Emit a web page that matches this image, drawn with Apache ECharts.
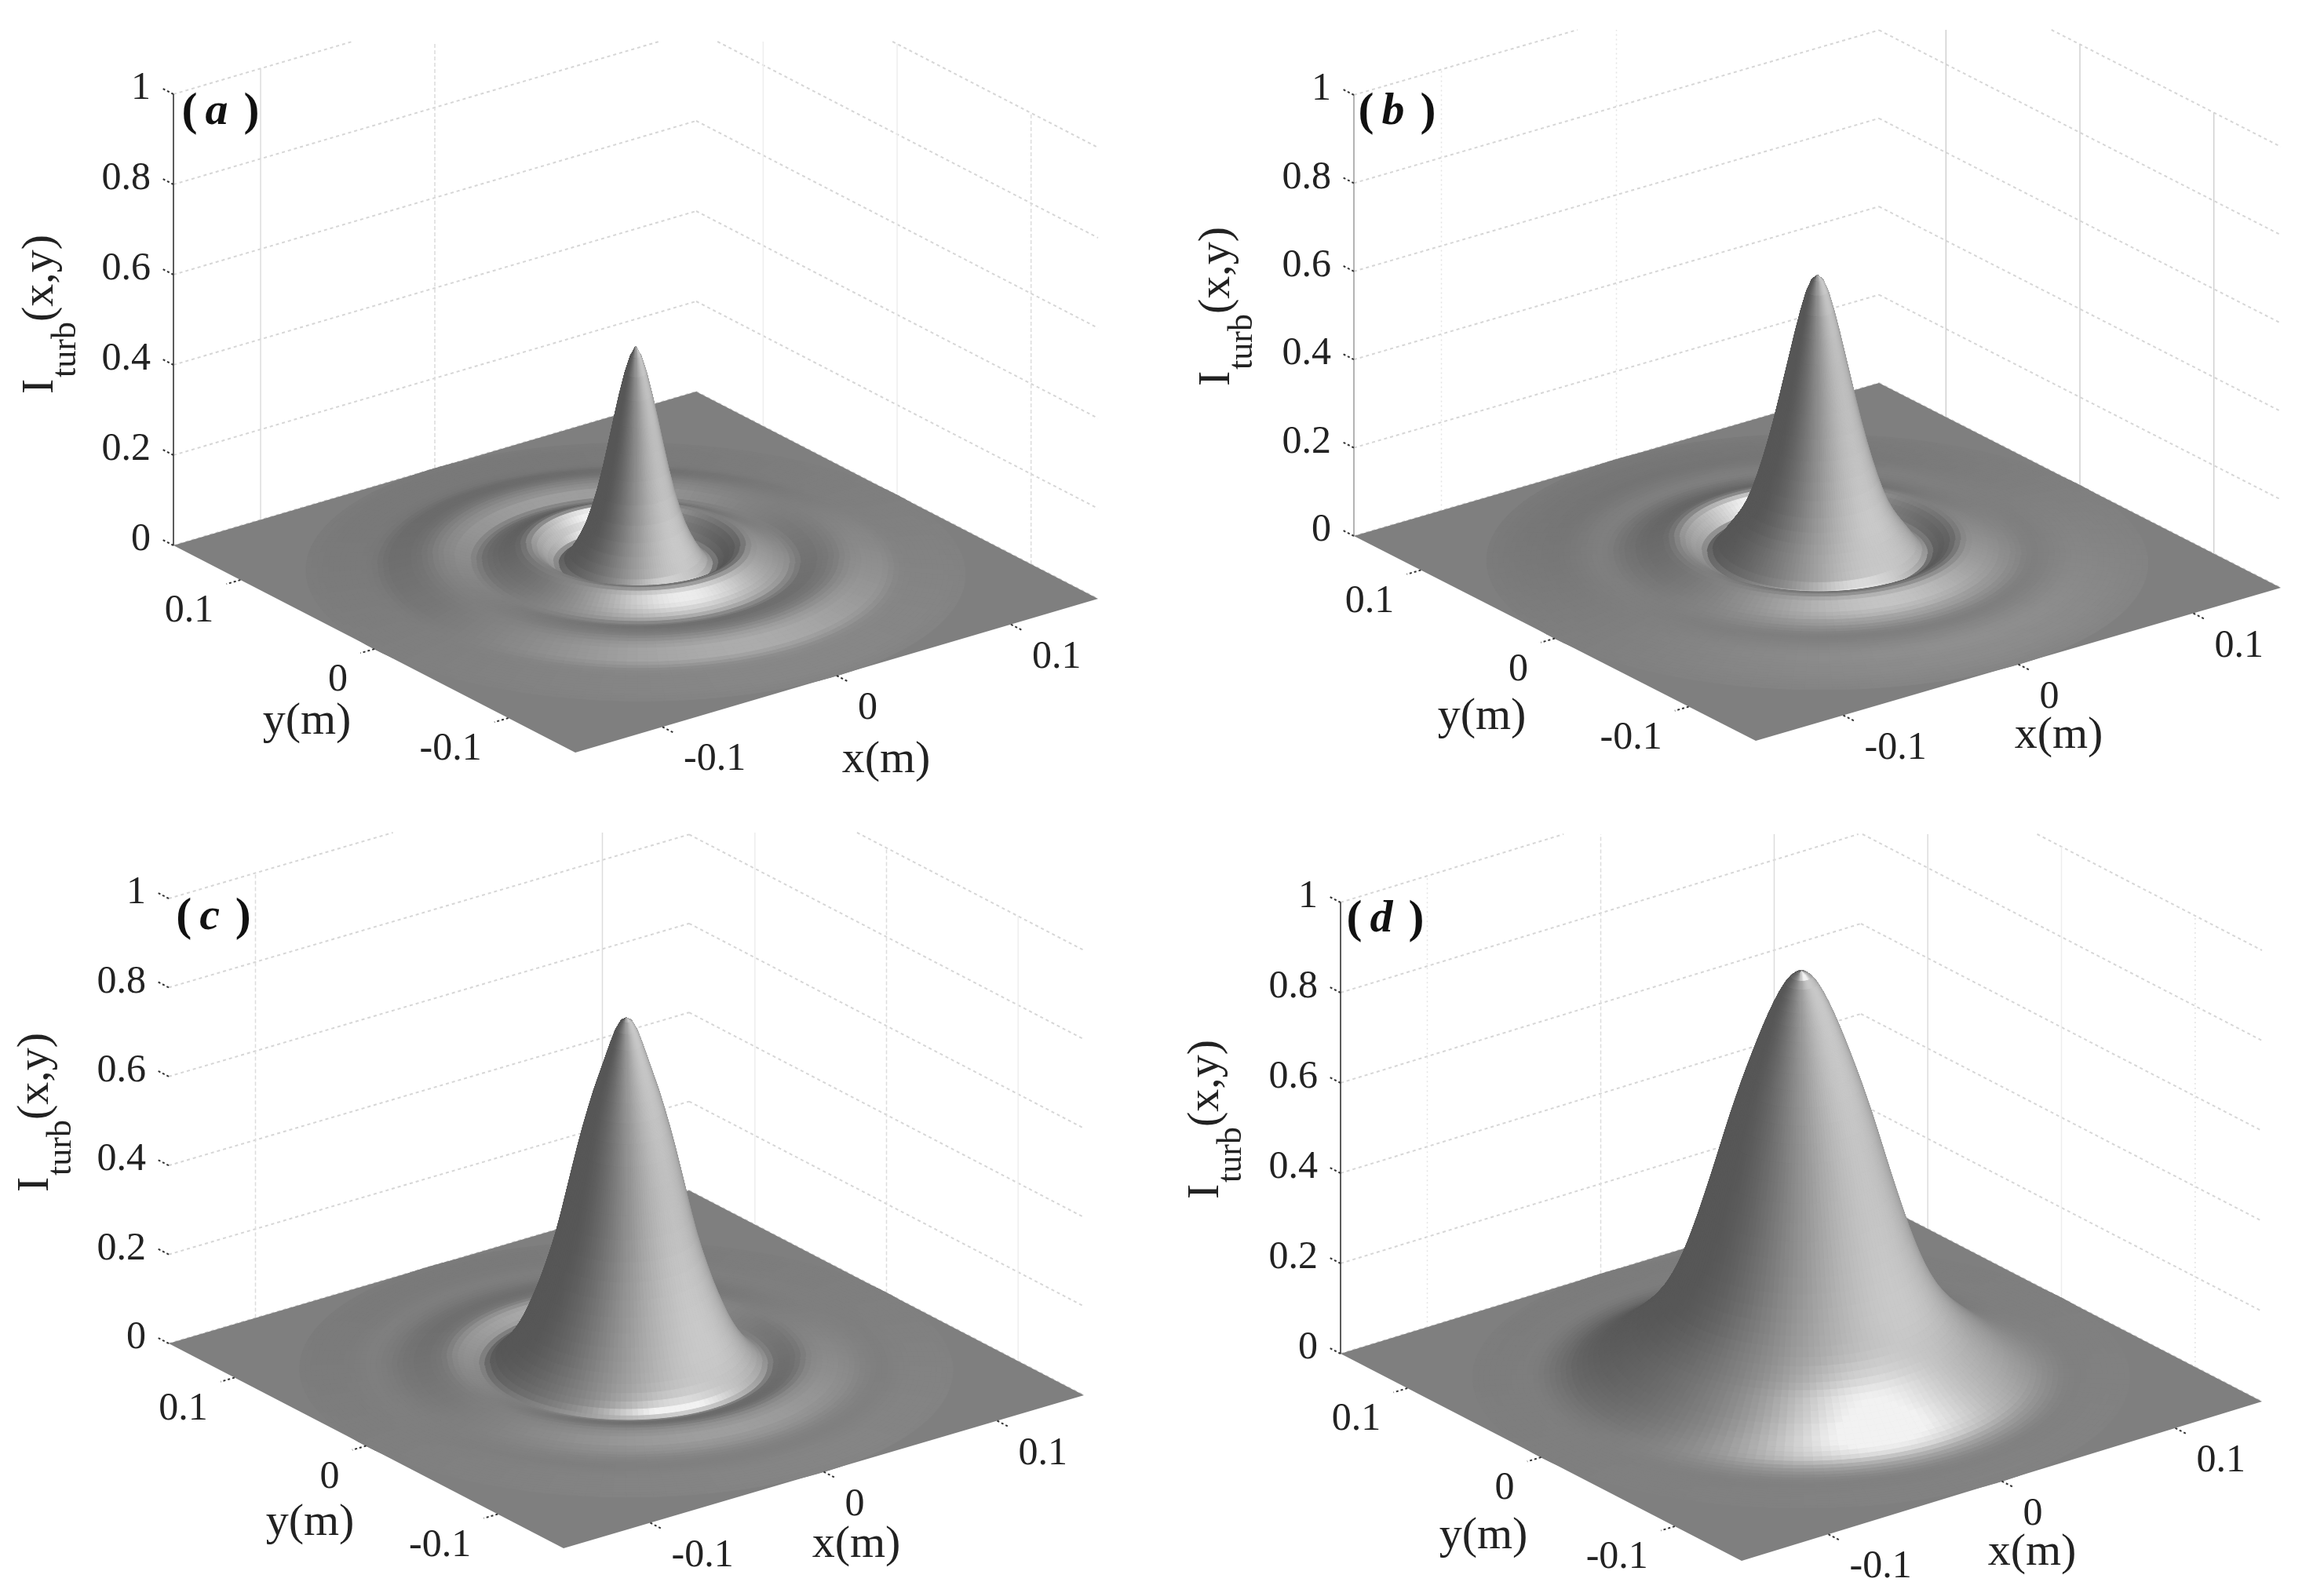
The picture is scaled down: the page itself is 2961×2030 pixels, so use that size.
<!DOCTYPE html>
<html>
<head>
<meta charset="utf-8">
<title>Turbulence intensity surfaces</title>
<script src="https://cdn.jsdelivr.net/npm/echarts@6/dist/echarts.min.js"></script>
<style>
  html, body { margin: 0; padding: 0; background: #fff; }
  #chart { width: 2961px; height: 2030px; }
</style>
</head>
<body>
<div id="chart"></div>
<script>
// radius of each profile sample, metres
const radii = [
  0, .0025, .005, .0075, .01, .0125, .015, .0175, .02, .0225,
  .025, .0275, .03, .0325, .035, .0375, .04, .0425, .045, .0475,
  .05, .0525, .055, .0575, .06, .0625, .065, .0675, .07, .0725,
  .075, .0775, .08, .0825, .085, .0875, .09, .0925, .095, .0975,
  .1, .1025, .105, .1075, .11, .1125, .115, .1175, .12, .1225,
  .125, .1275, .13, .1325, .135, .1375, .14, .1425, .145, .1475,
  .15
]
// I_turb against radius
const profileA = [
  .500, .478, .440, .392, .338, .282, .228, .180, .140, .106,
  .080, .058, .040, .026, .018, .021, .032, .044, .054, .060,
  .061, .058, .053, .047, .041, .036, .031, .027, .024, .022,
  .024, .026, .029, .031, .033, .034, .035, .035, .034, .032,
  .030, .027, .024, .021, .018, .015, .012, .0104, .0092, .0082,
  .0074, .0066, .0058, .005, .0042, .0034, .0026, .0018, .0011, .0005,
  0
]
const profileB = [
  .650, .640, .612, .570, .522, .470, .418, .366, .316, .270,
  .228, .190, .156, .128, .106, .088, .072, .056, .040, .026,
  .020, .024, .032, .041, .048, .052, .053, .051, .047, .043,
  .039, .035, .031, .028, .025, .023, .021, .020, .0195, .0195,
  .0195, .0195, .0192, .0186, .0178, .0168, .0156, .0142, .0128, .0114,
  .010, .0088, .0076, .0064, .0052, .0041, .0031, .0022, .0013, .0006,
  0
]
const profileC = [
  .790, .783, .762, .730, .695, .660, .625, .585, .543, .497,
  .448, .398, .348, .302, .262, .226, .192, .162, .134, .108,
  .086, .067, .051, .037, .025, .015, .010, .012, .015, .018,
  .021, .024, .026, .026, .025, .023, .021, .019, .016, .014,
  .012, .010, .0085, .0075, .0068, .0064, .0062, .0062, .0062, .006,
  .0056, .0052, .0046, .004, .0034, .0028, .0022, .0016, .001, .0004,
  0
]
const profileD = [
  .900, .897, .888, .873, .853, .830, .804, .776, .746, .715,
  .683, .650, .615, .579, .541, .502, .463, .425, .388, .352,
  .318, .286, .257, .231, .208, .188, .170, .155, .141, .128,
  .116, .105, .095, .085, .075, .066, .057, .049, .041, .034,
  .028, .022, .017, .013, .010, .0075, .0056, .0044, .0036, .0032,
  .003, .0028, .0026, .0023, .002, .0017, .0013, .001, .0006, .0003,
  0
]
const zTicks = [0, 0.2, 0.4, 0.6, 0.8, 1]
const zTickLabels = ['0', '0.2', '0.4', '0.6', '0.8', '1']
const xyTicks = [-0.1, 0, 0.1]
const xyTickLabels = ['-0.1', '0', '0.1']

const WALL_H = { stroke: '#d6d6d6', lineWidth: 2, lineDash: [4, 4] }
const V_SOLID = { stroke: '#dcdcdc', lineWidth: 1.5 }
const V_GRAY = { stroke: '#d0d0d0', lineWidth: 1.5 }
const V_FAINT = { stroke: '#eeeeee', lineWidth: 1.5 }
const V_DASH = { stroke: '#dcdcdc', lineWidth: 1.5, lineDash: [5, 3] }
const V_DOT = { stroke: '#e4e4e4', lineWidth: 1.5, lineDash: [2, 4] }
const AXIS_DARK = { stroke: '#5c5c5c', lineWidth: 2 }
const AXIS_LIGHT = { stroke: '#b4b4b4', lineWidth: 2 }
const TICK = { stroke: '#333333', lineWidth: 2, lineDash: [3, 3] }

// where each panel sits on the page; the source figure renders its thin lines unevenly
const panels = [
  { letter: 'a', profile: profileA, box: [0, 0, 1480, 1015], left: [221, 695], right: [1399, 763], front: [733, 959], zHeight: 575, cropTop: 53,
    yTitle: [391, 920], xTitle: [1129, 969], iTitle: [52, 502], tag: [281, 143], axis: AXIS_DARK,
    leftV: [V_SOLID, V_DASH, null], rightV: [V_FAINT, V_FAINT, V_DASH] },
  { letter: 'b', profile: profileB, box: [1480, 0, 1481, 1015], left: [1725, 683], right: [2906, 749], front: [2237, 944], zHeight: 562, cropTop: 38,
    yTitle: [1888, 914], xTitle: [2623, 938], iTitle: [1551, 492], tag: [1780, 143], axis: AXIS_LIGHT,
    leftV: [V_DOT, V_DOT, null], rightV: [V_GRAY, V_GRAY, V_GRAY] },
  { letter: 'c', profile: profileC, box: [0, 1015, 1480, 1015], left: [215, 1712], right: [1381, 1778], front: [718, 1973], zHeight: 567, cropTop: 1061,
    yTitle: [395, 1941], xTitle: [1091, 1969], iTitle: [46, 1519], tag: [272, 1169], axis: null,
    leftV: [V_DASH, null, V_SOLID], rightV: [V_FAINT, V_DASH, V_FAINT] },
  { letter: 'd', profile: profileD, box: [1480, 1015, 1481, 1015], left: [1708, 1725], right: [2882, 1786], front: [2219, 1989], zHeight: 575, cropTop: 1063,
    yTitle: [1890, 1958], xTitle: [2589, 1979], iTitle: [1537, 1528], tag: [1765, 1172], axis: AXIS_DARK,
    leftV: [V_DOT, V_DASH, V_SOLID], rightV: [V_SOLID, V_FAINT, V_DOT] }
]

const HALF = 0.15 // x and y run from -HALF to HALF
const SEGMENTS = 150
const SLOPE_SCALE = 0.15
const SERIF = '"Liberation Serif", "Times New Roman", serif'

function lightDir(az, tiltDeg) {
  const t = tiltDeg * Math.PI / 180
  return [Math.sin(t) * az[0], Math.sin(t) * az[1], Math.cos(t)]
}
const SIDE_LIGHT = lightDir([0.20, -0.98], 55)
const SPOT_LIGHT = lightDir([-0.30, -0.95], 24)

// 3D point to the panel's plane, in the units of its hidden axes
function project(p, x, y, z) {
  const u = (x + HALF) / (2 * HALF)
  const v = (y + HALF) / (2 * HALF)
  return [
    p.front[0] + u * (p.right[0] - p.front[0]) + v * (p.left[0] - p.front[0]),
    p.front[1] + u * (p.right[1] - p.front[1]) + v * (p.left[1] - p.front[1]) - z * p.zHeight
  ]
}

function shade(slope, cosT, sinT) {
  const nx = -slope * cosT * SLOPE_SCALE
  const ny = -slope * sinT * SLOPE_SCALE
  const len = Math.sqrt(nx * nx + ny * ny + 1)
  const side = Math.max(0, (nx * SIDE_LIGHT[0] + ny * SIDE_LIGHT[1] + SIDE_LIGHT[2]) / len)
  const spot = Math.max(0, (nx * SPOT_LIGHT[0] + ny * SPOT_LIGHT[1] + SPOT_LIGHT[2]) / len)
  const c = Math.min(0.95, 0.34 + 0.45 * side * side + 0.38 * Math.pow(spot, 40))
  const g = Math.round(c * 255)
  return 'rgb(' + g + ',' + g + ',' + g + ')'
}

// one quad per ring and angle, far ones first so near ones paint over them
function buildCells(p) {
  const viewX = p.front[0] - p.left[0]
  const viewY = p.right[0] - p.front[0]
  const cells = []
  for (let i = 0; i < radii.length - 1; i++) {
    for (let j = 0; j < SEGMENTS; j++) {
      const t = (j + 0.5) / SEGMENTS * 2 * Math.PI
      const rm = (radii[i] + radii[i + 1]) / 2
      cells.push({ i, j, depth: rm * (Math.cos(t) * viewX + Math.sin(t) * viewY) })
    }
  }
  cells.sort((a, b) => b.depth - a.depth)
  return cells.map(c => [c.i, c.j])
}

function surfaceSeries(p, idx) {
  const cells = buildCells(p)
  const prof = p.profile
  return {
    type: 'custom',
    xAxisIndex: idx,
    yAxisIndex: idx,
    z: 2,
    silent: true,
    clip: false,
    progressive: 0,
    animation: false,
    data: cells,
    renderItem: (params, api) => {
      const i = cells[params.dataIndex][0]
      const j = cells[params.dataIndex][1]
      const a0 = j / SEGMENTS * 2 * Math.PI
      const a1 = (j + 1) / SEGMENTS * 2 * Math.PI
      const am = (a0 + a1) / 2
      const r0 = radii[i]
      const r1 = radii[i + 1]
      // slope over a few neighbours, the read values are too coarse for one step
      const lo = Math.max(0, i - 1)
      const hi = Math.min(prof.length - 1, i + 2)
      const slope = (prof[hi] - prof[lo]) / (radii[hi] - radii[lo])
      const col = shade(slope, Math.cos(am), Math.sin(am))
      const points = [
        project(p, r0 * Math.cos(a0), r0 * Math.sin(a0), prof[i]),
        project(p, r1 * Math.cos(a0), r1 * Math.sin(a0), prof[i + 1]),
        project(p, r1 * Math.cos(a1), r1 * Math.sin(a1), prof[i + 1]),
        project(p, r0 * Math.cos(a1), r0 * Math.sin(a1), prof[i])
      ].map(q => api.coord(q))
      return { type: 'polygon', shape: { points }, style: { fill: col, stroke: col, lineWidth: 1 } }
    }
  }
}

function wallSegments(p) {
  const segs = []
  const C = HALF
  zTicks.forEach(z => {
    segs.push({ a: project(p, -C, C, z), b: project(p, C, C, z), style: WALL_H })
    segs.push({ a: project(p, C, C, z), b: project(p, C, -C, z), style: WALL_H })
  })
  xyTicks.forEach((t, i) => {
    if (p.leftV[i]) segs.push({ a: project(p, t, C, 0), b: project(p, t, C, 1), style: p.leftV[i] })
    // right wall is listed from the back corner outwards
    if (p.rightV[i]) segs.push({ a: project(p, C, -t, 0), b: project(p, C, -t, 1), style: p.rightV[i] })
  })
  if (p.axis) segs.push({ a: project(p, -C, C, 0), b: project(p, -C, C, 1), style: p.axis })
  return segs
}

function tickSegments(p) {
  const segs = []
  const C = HALF
  const len = 0.008
  zTicks.forEach(z => {
    segs.push({ a: project(p, -C, C, z), b: project(p, -C, C + len, z), style: TICK })
  })
  xyTicks.forEach(t => {
    segs.push({ a: project(p, -C, t, 0), b: project(p, -C - len, t, 0), style: TICK })
    segs.push({ a: project(p, t, -C, 0), b: project(p, t, -C - len, 0), style: TICK })
  })
  return segs
}

function lineSeries(p, idx, segs, z) {
  return {
    type: 'custom',
    xAxisIndex: idx,
    yAxisIndex: idx,
    z,
    silent: true,
    clip: false,
    animation: false,
    progressive: 0,
    data: segs.map((s, i) => [i, 0]),
    renderItem: (params, api) => {
      const s = segs[params.dataIndex]
      let a = s.a
      let b = s.b
      // the source figure is cropped along a line just above each panel
      if (a[1] < p.cropTop && b[1] < p.cropTop) return null
      if (a[1] < p.cropTop || b[1] < p.cropTop) {
        const t = (p.cropTop - a[1]) / (b[1] - a[1])
        const m = [a[0] + t * (b[0] - a[0]), p.cropTop]
        if (a[1] < p.cropTop) a = m
        else b = m
      }
      const pa = api.coord(a)
      const pb = api.coord(b)
      return { type: 'line', shape: { x1: pa[0], y1: pa[1], x2: pb[0], y2: pb[1] }, style: s.style }
    }
  }
}

function floorSeries(p, idx) {
  const C = HALF
  const col = shade(0, 1, 0)
  return {
    type: 'custom',
    xAxisIndex: idx,
    yAxisIndex: idx,
    z: 1.5,
    silent: true,
    clip: false,
    animation: false,
    data: [[0, 0]],
    renderItem: (params, api) => ({
      type: 'polygon',
      shape: { points: [project(p, -C, -C, 0), project(p, C, -C, 0), project(p, C, C, 0), project(p, -C, C, 0)].map(q => api.coord(q)) },
      style: { fill: col }
    })
  }
}

function panelTexts(p) {
  const C = HALF
  const out = []
  zTicks.forEach((z, i) => {
    const q = project(p, -C, C, z)
    out.push({ pos: [q[0] - 29, q[1] - 7], text: zTickLabels[i], font: '50px ' + SERIF, align: 'right' })
  })
  xyTicks.forEach((t, i) => {
    const qy = project(p, -C, t, 0)
    out.push({ pos: [qy[0] - 34, qy[1] + 40], text: xyTickLabels[i], font: '50px ' + SERIF, align: 'right' })
    const qx = project(p, t, -C, 0)
    out.push({ pos: [qx[0] + 27, qx[1] + 42], text: xyTickLabels[i], font: '50px ' + SERIF, align: 'left' })
  })
  out.push({ pos: p.yTitle, text: 'y(m)', font: '58px ' + SERIF, align: 'center' })
  out.push({ pos: p.xTitle, text: 'x(m)', font: '58px ' + SERIF, align: 'center' })
  const ix = p.iTitle[0]
  const iy = p.iTitle[1]
  out.push({ pos: [ix, iy], text: 'I', font: '58px ' + SERIF, align: 'left', rot: Math.PI / 2 })
  out.push({ pos: [ix + 32, iy - 21], text: 'turb', font: '44px ' + SERIF, align: 'left', rot: Math.PI / 2 })
  out.push({ pos: [ix, iy - 92], text: '(x,y)', font: '58px ' + SERIF, align: 'left', rot: Math.PI / 2 })
  out.push({
    pos: p.tag,
    text: '{p|(}{g| }{l|' + p.letter + '}{g|  }{p|)}',
    font: 'bold 50px ' + SERIF,
    align: 'center',
    rich: {
      p: { font: 'bold 60px ' + SERIF, fill: '#111' },
      g: { font: 'bold 40px ' + SERIF, fill: '#111' },
      l: { font: 'italic bold 58px ' + SERIF, fill: '#111' }
    }
  })
  return out
}

function textSeries(p, idx) {
  const items = panelTexts(p)
  return {
    type: 'custom',
    xAxisIndex: idx,
    yAxisIndex: idx,
    z: 5,
    silent: true,
    clip: false,
    animation: false,
    data: items.map((t, i) => [i, 0]),
    renderItem: (params, api) => {
      const t = items[params.dataIndex]
      const q = api.coord(t.pos)
      return {
        type: 'text',
        x: q[0],
        y: q[1],
        rotation: t.rot || 0,
        style: {
          text: t.text,
          font: t.font,
          fill: '#222',
          align: t.align,
          verticalAlign: 'middle',
          rich: t.rich
        }
      }
    }
  }
}

const chart = echarts.init(document.getElementById('chart'), null, { renderer: 'canvas' })

const series = []
panels.forEach((p, idx) => {
  series.push(lineSeries(p, idx, wallSegments(p), 1))
  series.push(floorSeries(p, idx))
  series.push(surfaceSeries(p, idx))
  series.push(lineSeries(p, idx, tickSegments(p), 3))
  series.push(textSeries(p, idx))
})

chart.setOption({
  backgroundColor: '#ffffff',
  animation: false,
  grid: panels.map(p => ({ left: p.box[0], top: p.box[1], width: p.box[2], height: p.box[3] })),
  xAxis: panels.map((p, i) => ({ type: 'value', gridIndex: i, show: false, min: p.box[0], max: p.box[0] + p.box[2] })),
  yAxis: panels.map((p, i) => ({ type: 'value', gridIndex: i, show: false, inverse: true, min: p.box[1], max: p.box[1] + p.box[3] })),
  series
})
</script>
</body>
</html>
